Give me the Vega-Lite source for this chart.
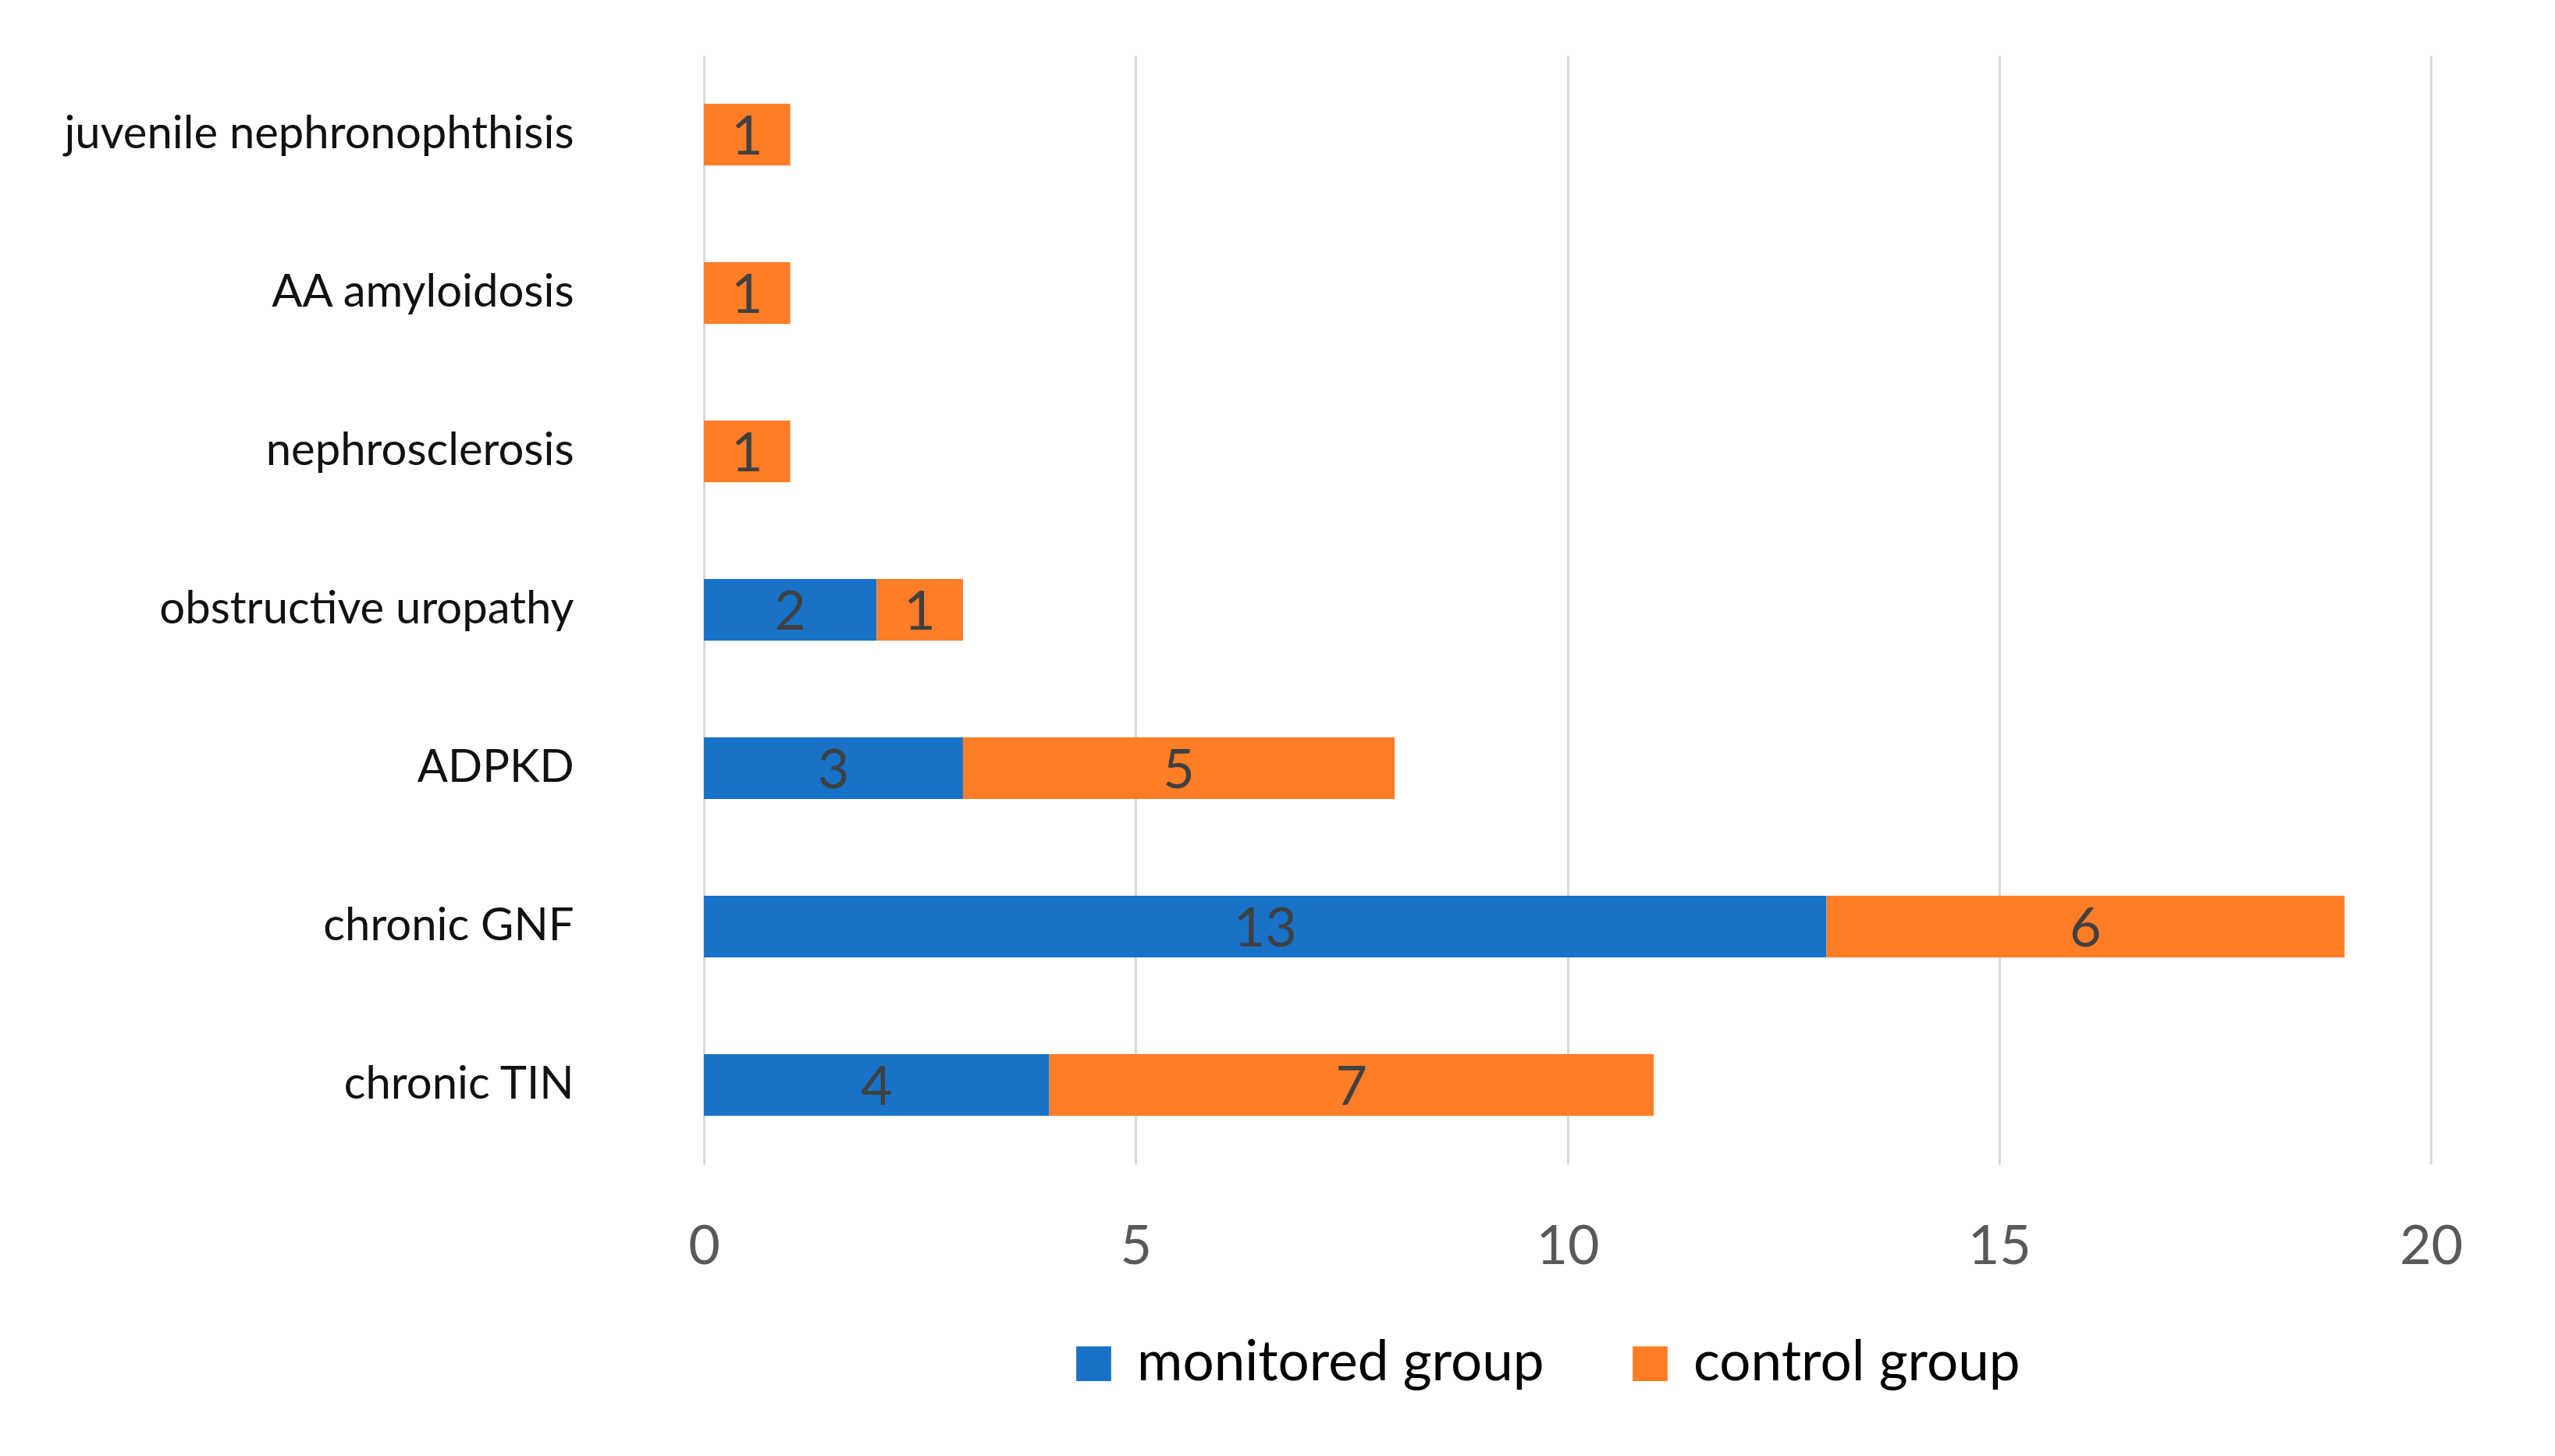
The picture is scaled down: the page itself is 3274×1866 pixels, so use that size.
{
  "$schema": "https://vega.github.io/schema/vega-lite/v6.json",
  "width": 2213,
  "height": 1421,
  "autosize": {"type": "none"},
  "padding": {"left": 902, "top": 71, "right": 159, "bottom": 374},
  "background": "#ffffff",
  "config": {
    "view": {"stroke": null},
    "font": "Lato"
  },
  "data": {
    "values": [
      {"disease": "juvenile nephronophthisis", "group": "control group", "count": 1},
      {"disease": "AA amyloidosis", "group": "control group", "count": 1},
      {"disease": "nephrosclerosis", "group": "control group", "count": 1},
      {"disease": "obstructive uropathy", "group": "monitored group", "count": 2},
      {"disease": "obstructive uropathy", "group": "control group", "count": 1},
      {"disease": "ADPKD", "group": "monitored group", "count": 3},
      {"disease": "ADPKD", "group": "control group", "count": 5},
      {"disease": "chronic GNF", "group": "monitored group", "count": 13},
      {"disease": "chronic GNF", "group": "control group", "count": 6},
      {"disease": "chronic TIN", "group": "monitored group", "count": 4},
      {"disease": "chronic TIN", "group": "control group", "count": 7}
    ]
  },
  "transform": [
    {"stack": "count", "groupby": ["disease"], "sort": [{"field": "group", "order": "descending"}], "as": ["x0", "x1"]}
  ],
  "encoding": {
    "y": {
      "field": "disease",
      "type": "nominal",
      "sort": ["juvenile nephronophthisis", "AA amyloidosis", "nephrosclerosis", "obstructive uropathy", "ADPKD", "chronic GNF", "chronic TIN"],
      "scale": {"paddingInner": 0.61, "paddingOuter": 0.305},
      "axis": {
        "title": null,
        "domain": false,
        "ticks": false,
        "grid": false,
        "labelPadding": 167,
        "labelFont": "Lato",
        "labelFontSize": 58,
        "labelColor": "#111111",
        "labelLimit": 1000
      }
    }
  },
  "layer": [
    {
      "mark": {"type": "bar"},
      "encoding": {
        "x": {
          "field": "x0",
          "type": "quantitative",
          "scale": {"domain": [0, 20], "nice": false},
          "axis": {
            "title": null,
            "values": [0, 5, 10, 15, 20],
            "format": "d",
            "domain": false,
            "ticks": false,
            "grid": true,
            "gridColor": "#d9d9d9",
            "gridWidth": 3,
            "labelFont": "Lato",
            "labelFontSize": 70,
            "labelColor": "#595959",
            "labelBaseline": "middle",
            "labelPadding": 106,
            "labelFlush": false
          }
        },
        "x2": {"field": "x1"},
        "color": {
          "field": "group",
          "type": "nominal",
          "scale": {"domain": ["monitored group", "control group"], "range": ["#1772C8", "#FE7D26"]},
          "legend": {
            "title": null,
            "orient": "none",
            "direction": "horizontal",
            "legendX": 464,
            "legendY": 1641,
            "padding": 0,
            "symbolType": "square",
            "symbolSize": 2000,
            "symbolStrokeWidth": 0,
            "labelFont": "Lato",
            "labelFontSize": 71,
            "labelColor": "#000000",
            "labelOffset": 20,
            "columnPadding": 100,
            "labelLimit": 1000
          }
        }
      }
    },
    {
      "transform": [
        {"fold": ["x0", "x1"], "as": ["edge", "pos"]}
      ],
      "mark": {"type": "text", "font": "Lato", "fontSize": 70, "color": "#404040", "align": "center", "baseline": "middle", "dy": 4},
      "encoding": {
        "x": {"aggregate": "mean", "field": "pos", "type": "quantitative"},
        "detail": {"field": "group", "type": "nominal"},
        "text": {"field": "count", "type": "quantitative"}
      }
    }
  ]
}
